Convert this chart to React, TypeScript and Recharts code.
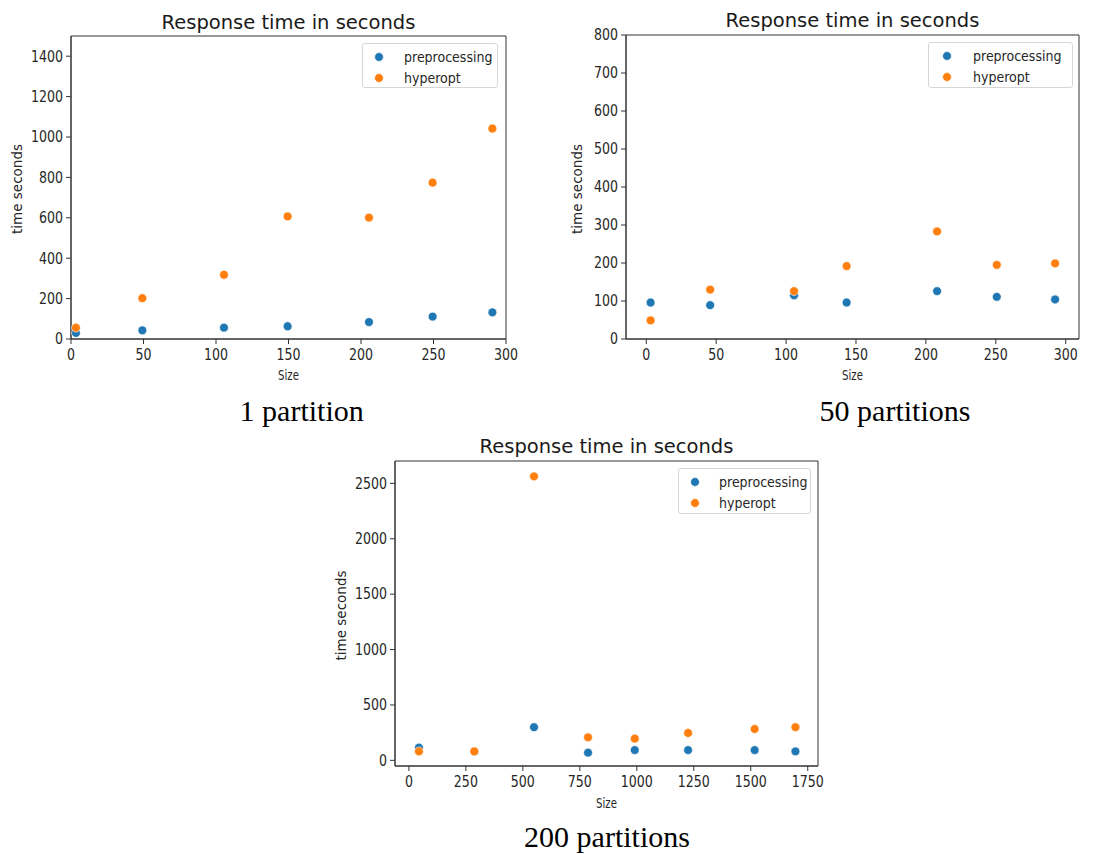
import React from 'react';
import { ScatterChart, Scatter, XAxis, YAxis, ReferenceArea, Legend } from 'recharts';

const SERIES_NAMES = ['preprocessing', 'hyperopt'];
const COLORS = ['#1f77b4', '#ff7f0e'];

const TITLE = 'Response time in seconds';
const X_LABEL = 'Size';
const Y_LABEL = 'time seconds';

// 1 partition
const p1Size = [3.4, 49.2, 105.5, 149.4, 205.5, 249.4, 290.6];
const p1Pre = [30, 43, 56, 63, 84, 111, 132];
const p1Hyp = [56, 202, 318, 607, 601, 774, 1042];
const p1XTicks = [0, 50, 100, 150, 200, 250, 300];
const p1YTicks = [0, 200, 400, 600, 800, 1000, 1200, 1400];

// 50 partitions
const p50Size = [3.1, 45.7, 105.7, 143.3, 208, 250.7, 292.4];
const p50Pre = [96, 89, 115, 96, 126, 111, 104];
const p50Hyp = [49, 130, 126, 192, 283, 195, 199];
const p50XTicks = [0, 50, 100, 150, 200, 250, 300];
const p50YTicks = [0, 100, 200, 300, 400, 500, 600, 700, 800];

// 200 partitions
const p200Size = [44, 287, 549, 786, 991, 1225, 1517, 1696];
const p200Pre = [115, 78, 299, 69, 93, 93, 93, 81];
const p200Hyp = [81, 81, 2563, 208, 196, 247, 283, 299];
const p200XTicks = [0, 250, 500, 750, 1000, 1250, 1500, 1750];
const p200YTicks = [0, 500, 1000, 1500, 2000, 2500];

const CAPTIONS = ['1 partition', '50 partitions', '200 partitions'];

const SANS = "'DejaVu Sans', sans-serif";
const SERIF = "'Liberation Serif', 'Times New Roman', serif";
const AXIS_COLOR = '#333';
const TEXT_COLOR = '#262626';

const TICK_FS = 15;
const TICK_SX = 0.84;
const LEG_FS = 14;
const LEG_SX = 0.9;

const toPoints = (xs: number[], ys: number[]) => xs.map((x, i) => ({ x, y: ys[i] }));

const dot = (color: string) => (props: any) => (
  <circle cx={props.cx} cy={props.cy} r={4.4} fill={color} stroke="#fff" strokeWidth={0.6} />
);

const XTick = (props: any) => {
  const { x, y, payload } = props;
  return (
    <text
      transform={`translate(${x},${y}) scale(${TICK_SX},1)`}
      textAnchor="middle"
      dy="0.71em"
      fontFamily={SANS}
      fontSize={TICK_FS}
      fill={TEXT_COLOR}
    >
      {payload.value}
    </text>
  );
};

const YTick = (props: any) => {
  const { x, y, payload } = props;
  return (
    <text
      transform={`translate(${x},${y}) scale(${TICK_SX},1)`}
      textAnchor="end"
      dy="0.355em"
      fontFamily={SANS}
      fontSize={TICK_FS}
      fill={TEXT_COLOR}
    >
      {payload.value}
    </text>
  );
};

type LegendCfg = { left: number; top: number; w: number; h: number; mx: number; tx: number };

const makeLegend = (cfg: LegendCfg) => (p: any) => {
  const payload = [...(p.payload || [])].sort(
    (a: any, b: any) => SERIES_NAMES.indexOf(a.value) - SERIES_NAMES.indexOf(b.value)
  );
  return (
    <div
      style={{
        width: cfg.w,
        height: cfg.h,
        boxSizing: 'border-box',
        border: '1px solid #d6d6d6',
        borderRadius: 3,
        background: 'rgba(255,255,255,0.85)',
      }}
    >
      <svg width={cfg.w - 2} height={cfg.h - 2} style={{ display: 'block' }}>
        {payload.map((e: any, i: number) => (
          <g key={i}>
            <circle cx={cfg.mx - 1} cy={13 + i * 21} r={4.4} fill={e.color} stroke="#fff" strokeWidth={0.6} />
            <text
              transform={`translate(${cfg.tx - 1},${13 + i * 21 + 5}) scale(${LEG_SX},1)`}
              fontFamily={SANS}
              fontSize={LEG_FS}
              fill={TEXT_COLOR}
            >
              {e.value}
            </text>
          </g>
        ))}
      </svg>
    </div>
  );
};

type PanelProps = {
  left: number;
  top: number;
  width: number;
  height: number;
  yAxisWidth: number;
  marginTop: number;
  marginRight: number;
  xAxisHeight: number;
  xDomain: [number, number];
  yDomain: [number, number];
  xTicks: number[];
  yTicks: number[];
  sizes: number[];
  pre: number[];
  hyp: number[];
  legend: LegendCfg;
};

function Panel(p: PanelProps) {
  return (
    <div style={{ position: 'absolute', left: p.left, top: p.top, width: p.width, height: p.height }}>
      <ScatterChart
        width={p.width}
        height={p.height}
        margin={{ top: p.marginTop, right: p.marginRight, bottom: 0, left: 0 }}
      >
        <XAxis
          type="number"
          dataKey="x"
          domain={p.xDomain}
          ticks={p.xTicks}
          allowDataOverflow
          height={p.xAxisHeight}
          tickSize={5}
          tickMargin={5}
          interval={0}
          stroke={AXIS_COLOR}
          axisLine={{ stroke: AXIS_COLOR }}
          tickLine={{ stroke: AXIS_COLOR }}
          tick={<XTick />}
        />
        <YAxis
          type="number"
          dataKey="y"
          domain={p.yDomain}
          ticks={p.yTicks}
          allowDataOverflow
          width={p.yAxisWidth}
          tickSize={5}
          tickMargin={3}
          interval={0}
          stroke={AXIS_COLOR}
          axisLine={{ stroke: AXIS_COLOR }}
          tickLine={{ stroke: AXIS_COLOR }}
          tick={<YTick />}
        />
        <ReferenceArea
          x1={p.xDomain[0]}
          x2={p.xDomain[1]}
          y1={p.yDomain[0]}
          y2={p.yDomain[1]}
          fill="none"
          fillOpacity={0}
          stroke={AXIS_COLOR}
          strokeWidth={1}
          ifOverflow="visible"
        />
        <Legend
          layout="vertical"
          align="center"
          verticalAlign="middle"
          wrapperStyle={{ left: p.legend.left, top: p.legend.top, width: p.legend.w, height: p.legend.h }}
          content={makeLegend(p.legend)}
        />
        <Scatter
          name={SERIES_NAMES[0]}
          data={toPoints(p.sizes, p.pre)}
          fill={COLORS[0]}
          shape={dot(COLORS[0])}
          isAnimationActive={false}
        />
        <Scatter
          name={SERIES_NAMES[1]}
          data={toPoints(p.sizes, p.hyp)}
          fill={COLORS[1]}
          shape={dot(COLORS[1])}
          isAnimationActive={false}
        />
      </ScatterChart>
    </div>
  );
}

const sizeLabel = (x: number, y: number) => (
  <text transform={`translate(${x},${y}) scale(0.75,1)`} textAnchor="middle">
    {X_LABEL}
  </text>
);

export default function App() {
  return (
    <div
      style={{
        position: 'absolute',
        left: 0,
        top: 0,
        width: 1098,
        height: 854,
        background: '#fff',
        overflow: 'hidden',
      }}
    >
      <Panel
        left={0}
        top={0}
        width={530}
        height={384}
        yAxisWidth={71}
        marginTop={36}
        marginRight={24}
        xAxisHeight={45}
        xDomain={[0, 300]}
        yDomain={[0, 1500]}
        xTicks={p1XTicks}
        yTicks={p1YTicks}
        sizes={p1Size}
        pre={p1Pre}
        hyp={p1Hyp}
        legend={{ left: 362, top: 43, w: 136, h: 45, mx: 17, tx: 42 }}
      />
      <Panel
        left={560}
        top={0}
        width={538}
        height={384}
        yAxisWidth={66}
        marginTop={35}
        marginRight={19}
        xAxisHeight={45}
        xDomain={[-14.5, 309.5]}
        yDomain={[0, 800]}
        xTicks={p50XTicks}
        yTicks={p50YTicks}
        sizes={p50Size}
        pre={p50Pre}
        hyp={p50Hyp}
        legend={{ left: 368, top: 42, w: 145, h: 46, mx: 19, tx: 45 }}
      />
      <Panel
        left={324}
        top={425}
        width={514}
        height={386}
        yAxisWidth={71}
        marginTop={36}
        marginRight={20}
        xAxisHeight={45}
        xDomain={[-61, 1795]}
        yDomain={[-51, 2702]}
        xTicks={p200XTicks}
        yTicks={p200YTicks}
        sizes={p200Size}
        pre={p200Pre}
        hyp={p200Hyp}
        legend={{ left: 354, top: 43, w: 133, h: 46, mx: 17, tx: 41 }}
      />
      <svg
        width={1098}
        height={854}
        style={{ position: 'absolute', left: 0, top: 0, pointerEvents: 'none' }}
      >
        <g fontFamily={SANS} fontSize={19.5} fill="#1a1a1a" textAnchor="middle">
          <text x={288.5} y={28.5}>{TITLE}</text>
          <text x={852.5} y={27}>{TITLE}</text>
          <text x={606.5} y={453}>{TITLE}</text>
        </g>
        <g fontFamily={SANS} fontSize={13.5} fill={TEXT_COLOR}>
          {sizeLabel(288.5, 380)}
          {sizeLabel(852.5, 380)}
          {sizeLabel(606.5, 807.5)}
        </g>
        <g fontFamily={SANS} fontSize={13.5} fill={TEXT_COLOR} textAnchor="middle">
          <text transform="translate(21.5,189) rotate(-90)">{Y_LABEL}</text>
          <text transform="translate(582,189) rotate(-90)">{Y_LABEL}</text>
          <text transform="translate(346,615.5) rotate(-90)">{Y_LABEL}</text>
        </g>
        <g fontFamily={SERIF} fontSize={30} fill="#000" textAnchor="middle">
          <text x={301.7} y={421}>{CAPTIONS[0]}</text>
          <text x={895} y={421}>{CAPTIONS[1]}</text>
          <text x={607} y={846.5}>{CAPTIONS[2]}</text>
        </g>
      </svg>
    </div>
  );
}
